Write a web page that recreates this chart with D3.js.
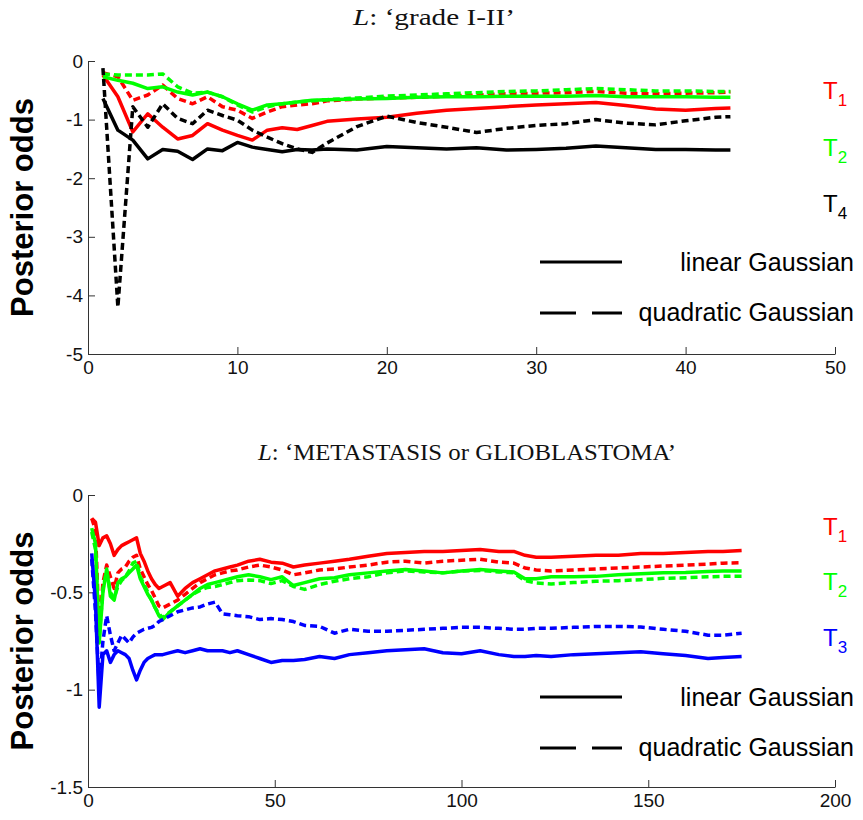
<!DOCTYPE html>
<html>
<head>
<meta charset="utf-8">
<script src="https://cdn.jsdelivr.net/npm/d3@7"></script>
<style>
  html, body { margin: 0; padding: 0; background: #fff; }
  svg { display: block; }
</style>
</head>
<body>
<svg id="chart" width="863" height="820"></svg>
<script>
// ---------------- DATA ----------------
// Top panel: L: 'grade I-II'
const xTop = [1,2,3,4,5,6,7,8,9,10,11,12,13,14,15,16,18,20,22,24,26,28,30,32,34,36,38,40,42,43];
const topT1Lin  = [-0.24,-0.61,-1.21,-0.90,-1.13,-1.33,-1.27,-1.07,-1.18,-1.27,-1.35,-1.18,-1.14,-1.17,-1.10,-1.03,-0.99,-0.96,-0.89,-0.84,-0.81,-0.78,-0.75,-0.73,-0.71,-0.76,-0.82,-0.84,-0.81,-0.80];
const topT1Quad = [-0.20,-0.27,-0.67,-0.58,-0.41,-0.64,-0.73,-0.61,-0.78,-0.84,-0.98,-0.87,-0.78,-0.75,-0.73,-0.68,-0.65,-0.63,-0.62,-0.60,-0.58,-0.56,-0.55,-0.54,-0.52,-0.55,-0.56,-0.55,-0.54,-0.53];
const topT2Lin  = [-0.27,-0.33,-0.38,-0.47,-0.44,-0.53,-0.58,-0.53,-0.61,-0.73,-0.84,-0.75,-0.73,-0.70,-0.67,-0.66,-0.65,-0.64,-0.62,-0.61,-0.61,-0.60,-0.60,-0.60,-0.59,-0.61,-0.61,-0.61,-0.62,-0.62];
const topT2Quad = [-0.22,-0.24,-0.24,-0.24,-0.22,-0.44,-0.55,-0.53,-0.61,-0.75,-0.87,-0.78,-0.73,-0.70,-0.68,-0.66,-0.63,-0.60,-0.58,-0.56,-0.54,-0.52,-0.51,-0.49,-0.47,-0.49,-0.51,-0.51,-0.52,-0.52];
const topT4Lin  = [-0.64,-1.18,-1.35,-1.67,-1.51,-1.54,-1.68,-1.50,-1.53,-1.39,-1.47,-1.51,-1.55,-1.51,-1.52,-1.50,-1.52,-1.46,-1.48,-1.50,-1.48,-1.52,-1.51,-1.49,-1.45,-1.48,-1.51,-1.51,-1.52,-1.52];
const topT4Quad = [-0.12,-4.20,-0.78,-1.13,-0.73,-0.98,-1.07,-0.84,-0.93,-1.01,-1.18,-1.30,-1.41,-1.50,-1.56,-1.40,-1.12,-0.94,-1.05,-1.13,-1.22,-1.15,-1.10,-1.07,-1.00,-1.06,-1.09,-1.02,-0.96,-0.95];
const topXTicks = [0,10,20,30,40,50];
const topYTicks = [0,-1,-2,-3,-4,-5];

// Bottom panel: L: 'METASTASIS or GLIOBLASTOMA'
const xBot = [1,2,3,4,5,6,7,8,9,10,11,12,13,14,15,16,17,18,19,20,22,24,26,28,30,32,34,36,38,40,43,46,49,52,55,58,62,66,70,75,80,85,90,95,100,105,110,114,117,120,124,130,136,142,148,154,160,166,170,175];
const botT1Lin  = [-0.12,-0.14,-0.26,-0.22,-0.21,-0.25,-0.31,-0.28,-0.26,-0.25,-0.24,-0.23,-0.22,-0.30,-0.34,-0.39,-0.43,-0.46,-0.48,-0.47,-0.45,-0.52,-0.48,-0.45,-0.43,-0.41,-0.39,-0.38,-0.37,-0.36,-0.34,-0.33,-0.345,-0.35,-0.37,-0.36,-0.35,-0.34,-0.33,-0.315,-0.30,-0.295,-0.29,-0.29,-0.285,-0.28,-0.29,-0.29,-0.31,-0.32,-0.32,-0.315,-0.31,-0.31,-0.30,-0.30,-0.295,-0.29,-0.29,-0.285];
const botT1Quad = [-0.12,-0.18,-0.70,-0.45,-0.36,-0.42,-0.48,-0.40,-0.38,-0.37,-0.34,-0.32,-0.31,-0.38,-0.42,-0.46,-0.49,-0.53,-0.57,-0.58,-0.56,-0.54,-0.51,-0.48,-0.45,-0.43,-0.41,-0.40,-0.39,-0.385,-0.37,-0.36,-0.37,-0.385,-0.41,-0.40,-0.385,-0.38,-0.37,-0.36,-0.345,-0.34,-0.35,-0.34,-0.335,-0.33,-0.345,-0.35,-0.375,-0.385,-0.39,-0.385,-0.38,-0.375,-0.37,-0.365,-0.36,-0.355,-0.35,-0.348];
const botT2Lin  = [-0.17,-0.25,-0.76,-0.50,-0.38,-0.52,-0.54,-0.45,-0.43,-0.42,-0.40,-0.38,-0.36,-0.43,-0.47,-0.51,-0.54,-0.58,-0.62,-0.64,-0.60,-0.57,-0.54,-0.51,-0.48,-0.46,-0.45,-0.44,-0.43,-0.42,-0.41,-0.42,-0.435,-0.42,-0.465,-0.45,-0.43,-0.425,-0.41,-0.40,-0.39,-0.383,-0.39,-0.40,-0.39,-0.383,-0.39,-0.395,-0.43,-0.43,-0.42,-0.42,-0.418,-0.41,-0.405,-0.40,-0.398,-0.393,-0.39,-0.39];
const botT2Quad = [-0.19,-0.28,-0.74,-0.48,-0.39,-0.50,-0.53,-0.47,-0.44,-0.42,-0.39,-0.35,-0.34,-0.42,-0.46,-0.50,-0.54,-0.58,-0.61,-0.63,-0.60,-0.57,-0.54,-0.51,-0.49,-0.475,-0.47,-0.46,-0.45,-0.44,-0.437,-0.44,-0.455,-0.44,-0.47,-0.485,-0.46,-0.443,-0.43,-0.42,-0.40,-0.39,-0.395,-0.40,-0.39,-0.388,-0.395,-0.40,-0.44,-0.452,-0.457,-0.45,-0.443,-0.44,-0.435,-0.428,-0.425,-0.42,-0.418,-0.417];
const botT3Lin  = [-0.30,-0.55,-1.09,-0.82,-0.80,-0.86,-0.82,-0.80,-0.81,-0.82,-0.84,-0.90,-0.95,-0.90,-0.86,-0.84,-0.83,-0.82,-0.82,-0.82,-0.81,-0.80,-0.81,-0.80,-0.79,-0.80,-0.80,-0.80,-0.81,-0.80,-0.82,-0.84,-0.86,-0.85,-0.85,-0.845,-0.83,-0.84,-0.82,-0.81,-0.80,-0.795,-0.79,-0.81,-0.815,-0.80,-0.82,-0.83,-0.83,-0.825,-0.83,-0.82,-0.815,-0.81,-0.805,-0.815,-0.825,-0.84,-0.835,-0.83];
const botT3Quad = [-0.33,-0.60,-0.98,-0.75,-0.62,-0.72,-0.80,-0.76,-0.72,-0.74,-0.76,-0.73,-0.71,-0.70,-0.69,-0.685,-0.68,-0.67,-0.65,-0.64,-0.62,-0.60,-0.59,-0.58,-0.575,-0.56,-0.55,-0.61,-0.615,-0.62,-0.625,-0.64,-0.635,-0.64,-0.65,-0.67,-0.675,-0.71,-0.69,-0.70,-0.70,-0.695,-0.69,-0.685,-0.68,-0.68,-0.685,-0.69,-0.69,-0.685,-0.685,-0.68,-0.675,-0.675,-0.678,-0.69,-0.70,-0.72,-0.72,-0.71];
const botXTicks = [0,50,100,150,200];
const botYTicks = [0,-0.5,-1,-1.5];

// ---------------- DRAW ----------------
const svg = d3.select("#chart");
const SANS = '"Liberation Sans", Arial, Helvetica, sans-serif';
const SERIF = '"Liberation Serif", "DejaVu Serif", "Times New Roman", serif';
const RED = "#ff0000", GREEN = "#00ff00", BLUE = "#0000ff", BLACK = "#000000";
const DASH = "7,4";

function panel(cfg) {
  const g = svg.append("g");
  const x = d3.scaleLinear().domain(cfg.xDomain).range([88, 835]);
  const y = d3.scaleLinear().domain(cfg.yDomain).range([cfg.yBottom, cfg.yTop]);

  // title
  const t = g.append("text")
    .attr("x", cfg.titleX).attr("y", cfg.titleY)
    .attr("text-anchor", "middle")
    .attr("textLength", cfg.titleW).attr("lengthAdjust", "spacingAndGlyphs")
    .style("font-family", SERIF).style("font-size", "24px").style("fill", "#111");
  t.append("tspan").style("font-style", "italic").text("L");
  t.append("tspan").text(": \u2018" + cfg.title + "\u2019");

  // axes
  const xAxis = d3.axisBottom(x).tickValues(cfg.xTicks).tickSize(-7).tickSizeOuter(0).tickPadding(7)
    .tickFormat(d => String(d));
  const yAxis = d3.axisLeft(y).tickValues(cfg.yTicks).tickSize(-7).tickSizeOuter(0).tickPadding(5)
    .tickFormat(d => String(d));
  const gx = g.append("g").attr("transform", `translate(0,${cfg.yBottom})`).call(xAxis);
  const gy = g.append("g").attr("transform", `translate(88,0)`).call(yAxis);
  [gx, gy].forEach(a => {
    a.select(".domain").attr("stroke", "#333").attr("stroke-width", 1);
    a.selectAll(".tick line").attr("stroke", "#333").attr("stroke-width", 1);
    a.selectAll(".tick text").style("font-family", SANS).style("font-size", "19px").attr("fill", "#111");
  });

  // y label
  g.append("text")
    .attr("transform", `translate(33,${(cfg.yTop + cfg.yBottom) / 2}) rotate(-90)`)
    .attr("text-anchor", "middle")
    .style("font-family", SANS).style("font-size", "31px").style("font-weight", "bold").style("fill", "#000")
    .text("Posterior odds");

  // series
  const line = d3.line().x((d, i) => x(cfg.xs[i])).y(d => y(d));
  cfg.series.forEach(s => {
    g.append("path")
      .attr("d", line(s.values))
      .attr("fill", "none")
      .attr("stroke", s.color)
      .attr("stroke-width", 3.5)
      .attr("stroke-linejoin", "round")
      .attr("stroke-dasharray", s.dashed ? DASH : null);
  });

  // class labels (T with subscript)
  cfg.labels.forEach(l => {
    const tt = g.append("text")
      .attr("x", 823).attr("y", l.y)
      .style("font-family", SANS).style("font-size", "24px").style("fill", l.color);
    tt.append("tspan").text("T");
    tt.append("tspan").attr("dy", 7).style("font-size", "17px").text(l.sub);
  });

  // legend
  g.append("line").attr("x1", 540).attr("x2", 622).attr("y1", cfg.legY1).attr("y2", cfg.legY1)
    .attr("stroke", "#000").attr("stroke-width", 3);
  g.append("text").attr("x", 854).attr("y", cfg.legY1 + 9).attr("text-anchor", "end")
    .style("font-family", SANS).style("font-size", "25px").style("fill", "#000").text("linear Gaussian");
  g.append("line").attr("x1", 540).attr("x2", 622).attr("y1", cfg.legY2).attr("y2", cfg.legY2)
    .attr("stroke", "#000").attr("stroke-width", 3).attr("stroke-dasharray", "36,16");
  g.append("text").attr("x", 854).attr("y", cfg.legY2 + 8).attr("text-anchor", "end")
    .style("font-family", SANS).style("font-size", "25px").style("fill", "#000").text("quadratic Gaussian");
}

panel({
  title: "grade I-II", titleX: 434, titleY: 25, titleW: 162,
  xDomain: [0, 50], yDomain: [-5, 0], yTop: 61, yBottom: 354,
  xTicks: topXTicks, yTicks: topYTicks, xs: xTop,
  series: [
    { values: topT1Lin, color: RED, dashed: false },
    { values: topT1Quad, color: RED, dashed: true },
    { values: topT2Lin, color: GREEN, dashed: false },
    { values: topT2Quad, color: GREEN, dashed: true },
    { values: topT4Lin, color: BLACK, dashed: false },
    { values: topT4Quad, color: BLACK, dashed: true }
  ],
  labels: [
    { sub: "1", color: RED, y: 99 },
    { sub: "2", color: GREEN, y: 156 },
    { sub: "4", color: BLACK, y: 212 }
  ],
  legY1: 262, legY2: 313
});

panel({
  title: "METASTASIS or GLIOBLASTOMA", titleX: 467, titleY: 460, titleW: 418,
  xDomain: [0, 200], yDomain: [-1.5, 0], yTop: 495, yBottom: 787,
  xTicks: botXTicks, yTicks: botYTicks, xs: xBot,
  series: [
    { values: botT1Lin, color: RED, dashed: false },
    { values: botT1Quad, color: RED, dashed: true },
    { values: botT2Lin, color: GREEN, dashed: false },
    { values: botT2Quad, color: GREEN, dashed: true },
    { values: botT3Lin, color: BLUE, dashed: false },
    { values: botT3Quad, color: BLUE, dashed: true }
  ],
  labels: [
    { sub: "1", color: RED, y: 535 },
    { sub: "2", color: GREEN, y: 590 },
    { sub: "3", color: BLUE, y: 646 }
  ],
  legY1: 697, legY2: 748
});
</script>
</body>
</html>
